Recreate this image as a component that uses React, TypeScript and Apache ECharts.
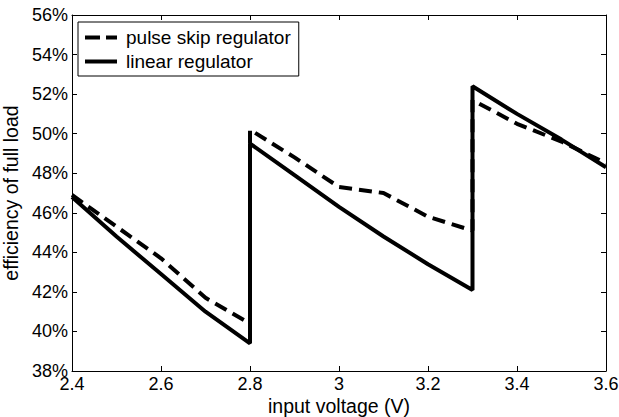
import React, { useEffect, useRef } from "react";
import * as echarts from "echarts";

const xTicks = [2.4, 2.6, 2.8, 3.0, 3.2, 3.4, 3.6];
const pulseX = [2.4, 2.5, 2.6, 2.7, 2.8, 2.8, 2.9, 3.0, 3.1, 3.2, 3.3, 3.3, 3.4, 3.5, 3.6];
const pulseY = [46.9, 45.3, 43.7, 41.7, 40.4, 50.2, 48.8, 47.3, 47.0, 45.8, 45.1, 51.7, 50.5, 49.6, 48.5];
const linearX = [2.4, 2.5, 2.6, 2.7, 2.8, 2.8, 2.9, 3.0, 3.1, 3.2, 3.3, 3.3, 3.4, 3.5, 3.6];
const linearY = [46.8, 44.8, 42.9, 41.0, 39.4, 49.5, 47.9, 46.3, 44.8, 43.4, 42.1, 52.4, 51.0, 49.7, 48.3];

const FONT = "Liberation Sans, Arial, sans-serif";

export default function App() {
  const ref = useRef<HTMLDivElement>(null);
  useEffect(() => {
    const chart = echarts.init(ref.current!, null, { renderer: "svg" });
    const axisLine = { show: true, lineStyle: { color: "#000", width: 1 } };
    const tick = { show: true, inside: true, length: 5, lineStyle: { color: "#000" } };
    chart.setOption({
      animation: false,
      backgroundColor: "#fff",
      grid: { left: 72, right: 13, top: 15, bottom: 46, containLabel: false, outerBoundsMode: "none" },
      legend: {
        left: 78,
        top: 22,
        orient: "vertical",
        data: [
          { name: "pulse skip regulator", icon: "path://M0,0H15V4H0Z M21,0H32V4H21Z" },
          { name: "linear regulator", icon: "path://M0,0H32V4H0Z" },
        ],
        borderColor: "#000",
        borderWidth: 1,
        backgroundColor: "#fff",
        borderRadius: 0,
        padding: [6, 8, 5, 7],
        itemGap: 5,
        itemWidth: 32,
        itemHeight: 4,
        textStyle: { fontFamily: FONT, fontSize: 19, color: "#000", padding: [0, 0, 0, 4] },
      },
      xAxis: [
        {
          type: "value",
          min: 2.4,
          max: 3.6,
          interval: 0.2,
          axisLine,
          axisTick: tick,
          splitLine: { show: false },
          axisLabel: {
            fontFamily: FONT,
            fontSize: 18,
            color: "#000",
            margin: 4,
            formatter: (v: number) => {
              const r = Math.round(v * 10) / 10;
              return xTicks.includes(r) ? String(r) : "";
            },
          },
          name: "input voltage (V)",
          nameLocation: "middle",
          nameGap: 25,
          nameMoveOverlap: false,
          nameTextStyle: { fontFamily: FONT, fontSize: 19.5, color: "#000" },
        },
        {
          type: "value",
          position: "top",
          min: 2.4,
          max: 3.6,
          interval: 0.2,
          axisLine,
          axisTick: tick,
          axisLabel: { show: false },
          splitLine: { show: false },
        },
      ],
      yAxis: [
        {
          type: "value",
          min: 38,
          max: 56,
          interval: 2,
          axisLine,
          axisTick: tick,
          splitLine: { show: false },
          axisLabel: {
            fontFamily: FONT,
            fontSize: 18,
            color: "#000",
            margin: 4,
            formatter: (v: number) => v + "%",
          },
          name: "efficiency of full load",
          nameLocation: "middle",
          nameGap: 45,
          nameTextStyle: { fontFamily: FONT, fontSize: 19.5, color: "#000" },
        },
        {
          type: "value",
          position: "right",
          min: 38,
          max: 56,
          interval: 2,
          axisLine,
          axisTick: tick,
          axisLabel: { show: false },
          splitLine: { show: false },
        },
      ],
      series: [
        {
          name: "linear regulator",
          type: "line",
          data: linearX.map((x, i) => [x, linearY[i]]),
          showSymbol: false,
          symbol: "none",
          lineStyle: { color: "#000", width: 4, type: "solid" },
          itemStyle: { color: "#000" },
          z: 3,
        },
        {
          name: "pulse skip regulator",
          type: "line",
          data: pulseX.map((x, i) => [x, pulseY[i]]),
          showSymbol: false,
          symbol: "none",
          lineStyle: { color: "#000", width: 4, type: [13, 7] },
          itemStyle: { color: "#000" },
          z: 2,
        },
      ],
    });
    return () => chart.dispose();
  }, []);
  return <div ref={ref} style={{ width: 619, height: 417, position: "absolute", left: 0, top: 0 }} />;
}
